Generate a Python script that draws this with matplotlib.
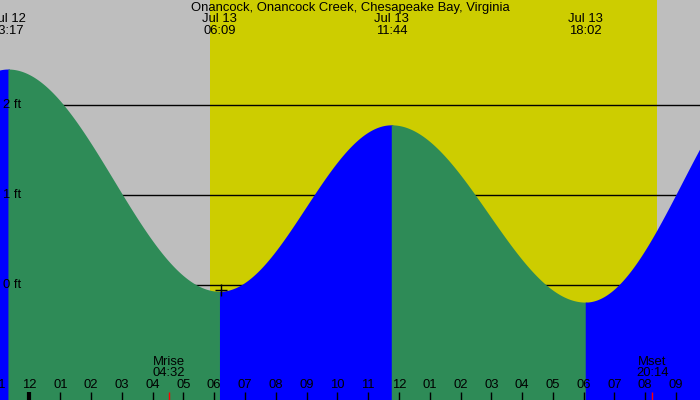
import numpy as np
import matplotlib
matplotlib.use('Agg')
import matplotlib.pyplot as plt
import matplotlib.transforms as mtransforms

plt.rcParams['font.family'] = ['Liberation Sans', 'DejaVu Sans']

# Tide extremes, hours after midnight Jul 13 (negative = Jul 12), heights in ft.
# First and last entries lie just outside the visible window.
extreme_hours = [-7.10, -0.70, 6.17, 11.75, 18.05, 24.33]
extreme_heights = [-0.10, 2.40, -0.07, 1.78, -0.19, 2.46]
extreme_dates = ['Jul 11', 'Jul 12', 'Jul 13', 'Jul 13', 'Jul 13', 'Jul 14']
extreme_times = ['16:54', '23:17', '06:09', '11:44', '18:02', '00:20']

sunrise, sunset = 5.86, 20.37
moonrise, moonset = 4.533, 20.233
moon_labels = [('Mrise', '04:32'), ('Mset', '20:14')]

hour_ticks = list(range(-1, 22))
hour_labels = ['%02d' % (h % 12 if h % 12 else 12) for h in hour_ticks]
height_ticks = [0, 1, 2]

x0, x1 = -0.958, 21.777
y0, y1 = -1.278, 3.167
fs = 9.4

fig = plt.figure(figsize=(7, 4), dpi=100, facecolor='#bebebe')
ax = fig.add_axes([0, 0, 1, 1])
ax.set_facecolor('#bebebe')
ax.set_xlim(x0, x1)
ax.set_ylim(y0, y1)
ax.axis('off')

ax.axvspan(sunrise, sunset, color='#cdcd00', zorder=1, lw=0)
for h in height_ticks:
    ax.axhline(h, color='black', lw=1, zorder=2)

# Draw each rise/fall between consecutive extremes; each fill runs a little
# past its end so the next one covers the seam.
for i in range(len(extreme_hours) - 1):
    ta, tb = extreme_hours[i], extreme_hours[i + 1]
    ha, hb = extreme_heights[i], extreme_heights[i + 1]
    t = np.linspace(ta, tb, 200)
    h = ha + (hb - ha) * (1 - np.cos(np.pi * (t - ta) / (tb - ta))) / 2
    t = np.concatenate([t, [tb + 0.05]])
    h = np.concatenate([h, [hb]])
    color = 'blue' if hb > ha else '#2e8b57'
    ax.fill_between(t, y0, h, color=color, lw=0, zorder=3, antialiased=False)

ax.plot([extreme_hours[2] + 0.05], [-0.06], marker='+', color='black', ms=8, mew=1, zorder=4)

trans = mtransforms.blended_transform_factory(ax.transData, ax.transAxes)

def ypix(p):
    return 1 - p / 400.0

for h in height_ticks:
    ax.text(x0 + 0.1, h, '%d ft' % h, ha='left', va='center', fontsize=fs, zorder=5)

ax.text(0.5, ypix(8), 'Onancock, Onancock Creek, Chesapeake Bay, Virginia',
        transform=ax.transAxes, ha='center', va='center', fontsize=fs, zorder=5)
for t, d, s in zip(extreme_hours, extreme_dates, extreme_times):
    ax.text(t, ypix(19.5), d, transform=trans, ha='center', va='center', fontsize=fs, zorder=5)
    ax.text(t, ypix(31.5), s, transform=trans, ha='center', va='center', fontsize=fs, zorder=5)

for t, lab in zip(hour_ticks, hour_labels):
    ax.text(t, ypix(385), lab, transform=trans, ha='center', va='center', fontsize=fs, zorder=5)
    lw = 3 if t == 0 else 1
    ax.plot([t, t], [ypix(392), 0], transform=trans, color='black', lw=lw,
            solid_capstyle='butt', zorder=5, clip_on=False)

for t, (a, b) in zip([moonrise, moonset], moon_labels):
    ax.text(t, ypix(362), a, transform=trans, ha='center', va='center', fontsize=fs, zorder=5)
    ax.text(t, ypix(373.5), b, transform=trans, ha='center', va='center', fontsize=fs, zorder=5)
    ax.plot([t, t], [ypix(392), 0], transform=trans, color='red', lw=1,
            solid_capstyle='butt', zorder=5)

fig.savefig('out.png', dpi=100, facecolor=fig.get_facecolor())
